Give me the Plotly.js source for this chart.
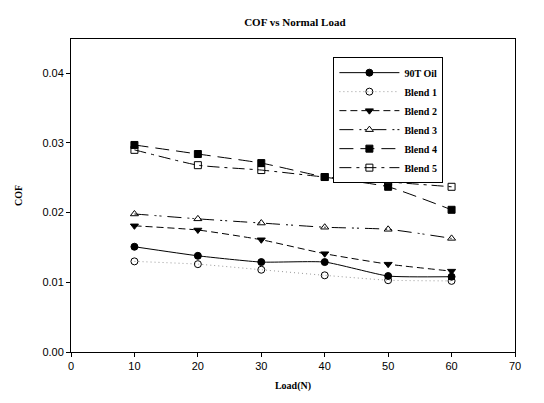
<!DOCTYPE html>
<html>
<head>
<meta charset="utf-8">
<script src="https://cdn.plot.ly/plotly-3.0.1.min.js"></script>
<style>html,body{margin:0;padding:0;background:#fff;}#chart{width:544px;height:403px;}</style>
</head>
<body>
<div id="chart"></div>
<script>
const load = [10, 20, 30, 40, 50, 60];
const oil90T = [0.0151, 0.0138, 0.0129, 0.0129, 0.0109, 0.0108];
const blend1 = [0.0130, 0.0126, 0.0118, 0.0110, 0.0103, 0.0102];
const blend2 = [0.0181, 0.0175, 0.0161, 0.0141, 0.0126, 0.0116];
const blend3 = [0.0198, 0.0191, 0.0185, 0.0179, 0.0176, 0.0163];
const blend4 = [0.0297, 0.0284, 0.0271, 0.0251, 0.0237, 0.0204];
const blend5 = [0.0290, 0.0268, 0.0261, 0.0251, 0.0244, 0.0237];
const names = ["90T Oil", "Blend 1", "Blend 2", "Blend 3", "Blend 4", "Blend 5"];
const xTicks = [0, 10, 20, 30, 40, 50, 60, 70];
const yTicks = [0.00, 0.01, 0.02, 0.03, 0.04];

const series = [oil90T, blend1, blend2, blend3, blend4, blend5];
const styles = [
  {dash: "solid", sym: "circle", lc: "#000"},
  {dash: "1px,3px", sym: "circle-open", lc: "#999"},
  {dash: "7px,4px", sym: "triangle-down", lc: "#000"},
  {dash: "14px,6px,2px,3px,2px,6px", sym: "triangle-up-open", lc: "#000"},
  {dash: "14px,7px", sym: "square", lc: "#000"},
  {dash: "12px,5px,3px,5px", sym: "square-open", lc: "#000"}
];

const traces = series.map((s, i) => ({
  x: load, y: s, name: names[i], type: "scatter", mode: "lines+markers",
  line: {color: styles[i].lc, width: 1, dash: styles[i].dash, shape: "spline", smoothing: 0.5},
  marker: {symbol: styles[i].sym, size: 7, color: "#000", line: {color: "#000", width: 1}}
}));

const layout = {
  width: 544, height: 403,
  margin: {l: 71, r: 29, t: 39, b: 51},
  paper_bgcolor: "#fff", plot_bgcolor: "#fff",
  title: {text: "<b>COF vs Normal Load</b>", x: 0.542, xanchor: "center", y: 0.945, yanchor: "middle",
          font: {family: "Liberation Serif", size: 11, color: "#000"}},
  xaxis: {
    range: [0, 70], tickvals: xTicks, ticktext: xTicks.map(String),
    ticks: "outside", ticklen: 4, tickcolor: "#000", showgrid: false, zeroline: false,
    showline: true, linecolor: "#000", linewidth: 1, mirror: true,
    tickfont: {family: "Liberation Sans", size: 11, color: "#000"},
    title: {text: "<b>Load(N)</b>", font: {family: "Liberation Serif", size: 10, color: "#000"}, standoff: 10}
  },
  yaxis: {
    range: [0, 0.0449], tickvals: yTicks, ticktext: yTicks.map(v => v.toFixed(2)),
    ticks: "outside", ticklen: 4, tickcolor: "#000", showgrid: false, zeroline: false,
    showline: true, linecolor: "#000", linewidth: 1, mirror: true,
    tickfont: {family: "Liberation Sans", size: 11, color: "#000"},
    title: {text: "<b>COF</b>", font: {family: "Liberation Serif", size: 10, color: "#000"}, standoff: 17}
  },
  legend: {
    x: 0.591, y: 0.942, xanchor: "left", yanchor: "top",
    bgcolor: "#fff", bordercolor: "#000", borderwidth: 1,
    font: {family: "Liberation Serif", size: 10, color: "#000", weight: "bold"},
    tracegroupgap: 0, itemwidth: 60
  },
  showlegend: true
};

Plotly.newPlot("chart", traces, layout, {displayModeBar: false, staticPlot: true});
</script>
</body>
</html>
